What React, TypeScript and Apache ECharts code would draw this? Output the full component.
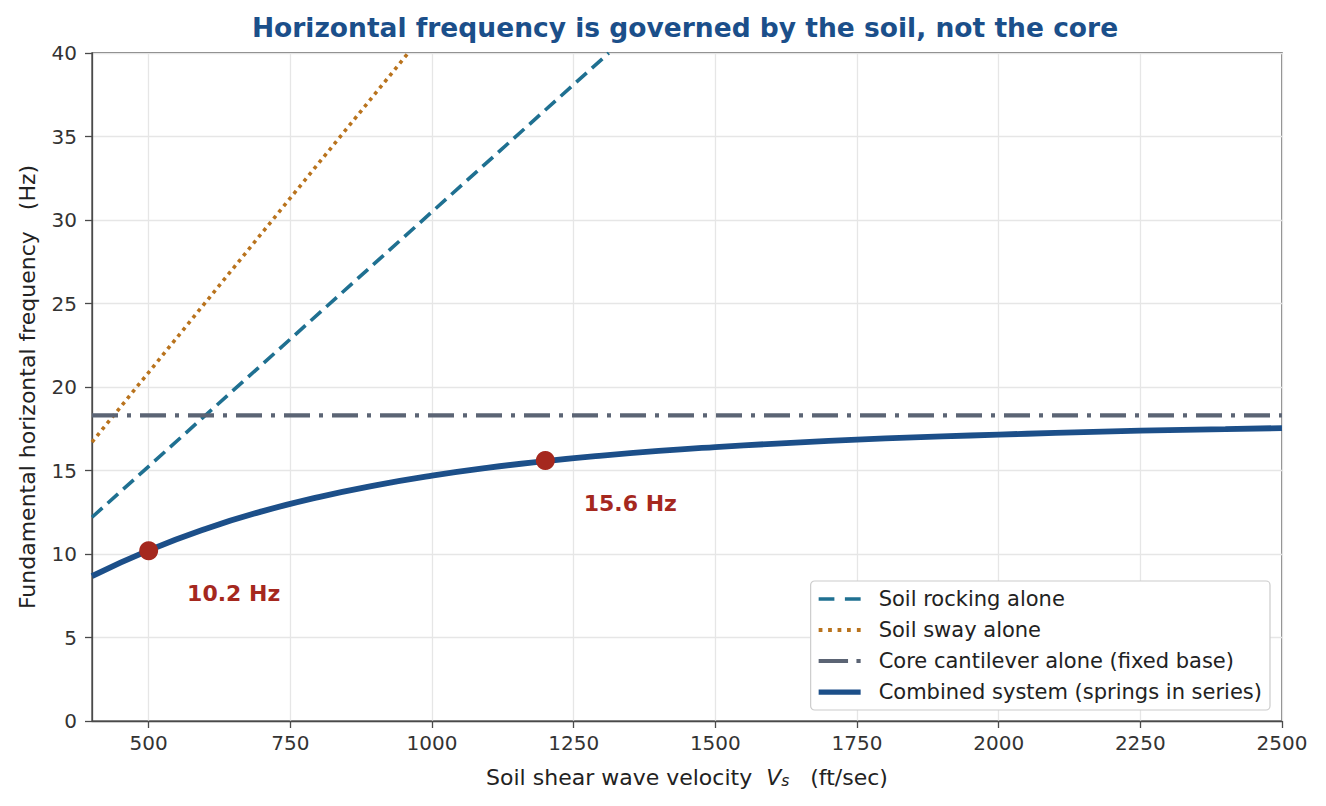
import { useEffect, useRef } from 'react';
import * as echarts from 'echarts';

// Soil shear wave velocity (ft/sec)
const vsValues = [400, 500, 600, 700, 800, 900, 1000, 1100, 1200, 1300, 1400, 1500, 1600, 1700, 1800, 1900, 2000, 2100, 2200, 2300, 2400, 2500];
// Combined system frequency (Hz)
const combinedHz = [8.68, 10.22, 11.5, 12.55, 13.41, 14.11, 14.69, 15.17, 15.56, 15.89, 16.17, 16.4, 16.6, 16.77, 16.92, 17.04, 17.15, 17.25, 17.34, 17.42, 17.48, 17.54];

// straight lines: [Vs, Hz] end points
const rockingPts = [[400, 12.2], [1312, 40]];
const swayPts = [[400, 16.7], [958, 40]];
const corePts = [[400, 18.3], [2500, 18.3]];

const highlightPts = [[500, 10.2], [1200, 15.6]];
const highlightLabels = ['10.2 Hz', '15.6 Hz'];

const xTickValues = [500, 750, 1000, 1250, 1500, 1750, 2000, 2250, 2500];
const xRange = { min: 400, max: 2500 };
const yTicks = { min: 0, max: 40, interval: 5 };

const FONT = 'DejaVu Sans';
const TEXT = '#333333';
const AXIS = '#4a4a4a';
const RED = '#a5281e';

const seriesNames = [
  'Soil rocking alone',
  'Soil sway alone',
  'Core cantilever alone (fixed base)',
  'Combined system (springs in series)',
];

export default function App() {
  const chartRef = useRef<HTMLDivElement>(null);

  useEffect(() => {
    if (!chartRef.current) return;
    const chart = echarts.init(chartRef.current, null, { renderer: 'svg' });

    const option = {
      animation: false,
      textStyle: { fontFamily: FONT },
      title: {
        text: 'Horizontal frequency is governed by the soil, not the core',
        left: 672,
        textAlign: 'center',
        top: 1,
        textStyle: { color: '#1b4f8a', fontSize: 26.5, fontWeight: 'bold', fontFamily: FONT },
      },
      grid: {
        left: 81,
        right: 36,
        top: 45,
        bottom: 77,
        show: true,
        borderColor: AXIS,
        borderWidth: 1.3,
        backgroundColor: 'transparent',
      },
      legend: {
        data: [
          { name: seriesNames[0], icon: 'path://M0,0h15v3.2h-15zM25,0h15v3.2h-15z' },
          { name: seriesNames[1], icon: 'path://M0,0h3.6v3.6h-3.6zM9,0h3.6v3.6h-3.6zM18,0h3.6v3.6h-3.6zM27,0h3.6v3.6h-3.6zM36.4,0h3.6v3.6h-3.6z' },
          { name: seriesNames[2], icon: 'path://M0,0h28v4h-28zM36,0h4v4h-4z' },
          { name: seriesNames[3], icon: 'path://M0,0h40v5h-40z' },
        ],
        orient: 'vertical',
        right: 48,
        bottom: 88,
        backgroundColor: '#ffffff',
        borderColor: '#cccccc',
        borderWidth: 1.2,
        borderRadius: 4,
        padding: [6, 8, 6, 8],
        itemWidth: 42,
        itemHeight: 10,
        itemGap: 7,
        textStyle: { color: '#222222', fontSize: 21, fontFamily: FONT, lineHeight: 24, padding: [0, 0, 0, 13] },
      },
      xAxis: {
        type: 'value',
        min: xRange.min,
        max: xRange.max,
        name: 'Soil shear wave velocity  {i|V}{sub|s}   (ft/sec)',
        nameLocation: 'middle',
        nameGap: 44,
        nameTextStyle: {
          color: '#222222',
          fontSize: 22,
          fontFamily: FONT,
          rich: {
            i: { fontStyle: 'italic', fontSize: 22, color: '#222222', fontFamily: FONT },
            sub: { fontStyle: 'italic', fontSize: 15.5, color: '#222222', fontFamily: FONT, padding: [8, 0, 0, 0] },
          },
        },
        axisLine: { show: true, lineStyle: { color: AXIS, width: 1.3 } },
        axisTick: { show: true, length: 7, customValues: xTickValues, lineStyle: { color: AXIS, width: 1.3 } },
        axisLabel: {
          color: TEXT,
          fontSize: 20,
          fontFamily: FONT,
          margin: 12,
          customValues: xTickValues,
          formatter: (v: number) => String(v),
        },
        splitLine: { show: true, lineStyle: { color: '#e6e6e6', width: 1.3 } },
      },
      yAxis: {
        type: 'value',
        min: yTicks.min,
        max: yTicks.max,
        interval: yTicks.interval,
        name: 'Fundamental horizontal frequency   (Hz)',
        nameLocation: 'middle',
        nameGap: 54,
        nameTextStyle: { color: '#222222', fontSize: 22, fontFamily: FONT },
        axisLine: { show: true, lineStyle: { color: AXIS, width: 1.3 } },
        axisTick: { show: true, length: 7, lineStyle: { color: AXIS, width: 1.3 } },
        axisLabel: { color: TEXT, fontSize: 20, fontFamily: FONT, margin: 15 },
        splitLine: { show: true, lineStyle: { color: '#e6e6e6', width: 1.3 } },
      },
      series: [
        {
          name: seriesNames[0],
          type: 'line',
          data: rockingPts,
          symbol: 'none',
          lineStyle: { color: '#1f7091', width: 3.6, type: [14, 7] },
          itemStyle: { color: '#1f7091' },
          z: 3,
        },
        {
          name: seriesNames[1],
          type: 'line',
          data: swayPts,
          symbol: 'none',
          lineStyle: { color: '#b9731d', width: 3.6, type: [3.6, 4.4] },
          itemStyle: { color: '#b9731d' },
          z: 3,
        },
        {
          name: seriesNames[2],
          type: 'line',
          data: corePts,
          symbol: 'none',
          lineStyle: { color: '#5b6474', width: 4.2, type: [26, 9, 4, 9] },
          itemStyle: { color: '#5b6474' },
          z: 3,
        },
        {
          name: seriesNames[3],
          type: 'line',
          data: vsValues.map((v, i) => [v, combinedHz[i]]),
          symbol: 'none',
          smooth: true,
          lineStyle: { color: '#1c4f89', width: 5.8 },
          itemStyle: { color: '#1c4f89' },
          z: 4,
        },
        {
          name: 'highlights',
          type: 'scatter',
          data: highlightPts.map((p, i) => ({ value: p, label: { formatter: highlightLabels[i] } })),
          symbol: 'circle',
          symbolSize: 19,
          itemStyle: { color: RED, opacity: 1 },
          label: {
            show: true,
            position: 'inside',
            offset: [85, 43],
            color: RED,
            fontSize: 22,
            fontWeight: 'bold',
            fontFamily: FONT,
          },
          z: 5,
        },
      ],
    };

    chart.setOption(option);
    const handleResize = () => chart.resize();
    window.addEventListener('resize', handleResize);
    return () => {
      window.removeEventListener('resize', handleResize);
      chart.dispose();
    };
  }, []);

  return <div ref={chartRef} style={{ width: 1310, height: 790, background: '#ffffff' }} />;
}
